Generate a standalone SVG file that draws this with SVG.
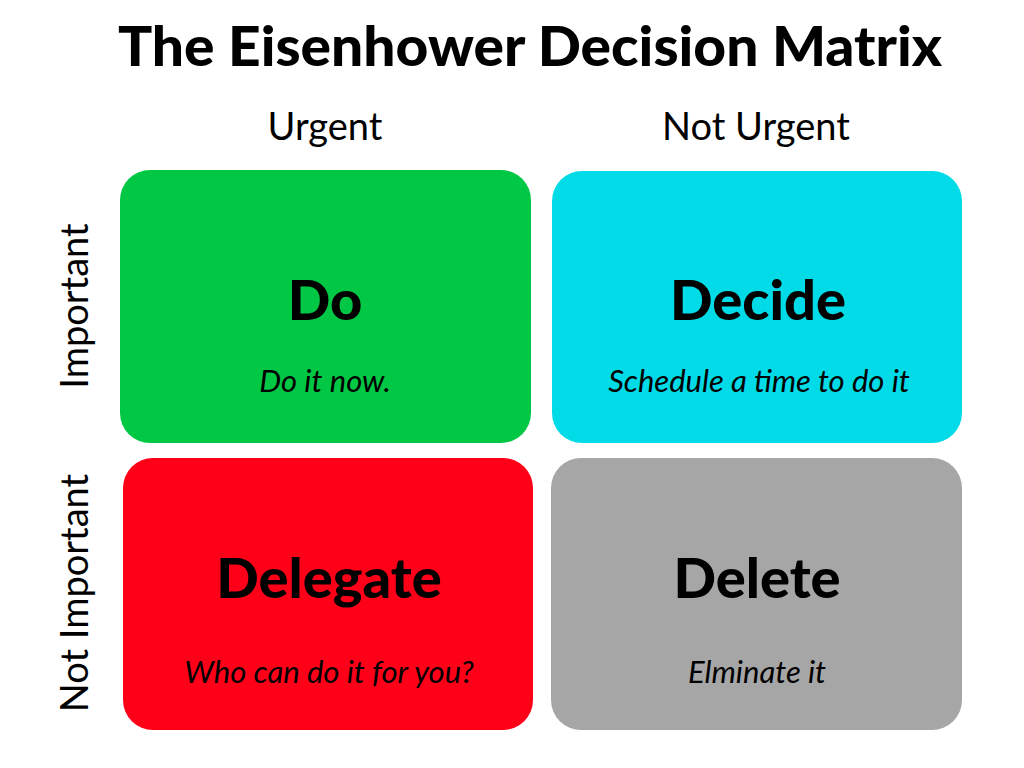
<svg xmlns="http://www.w3.org/2000/svg" width="1024" height="768" viewBox="0 0 1024 768">
<style>
.title{font-family:Lato,"Liberation Sans",sans-serif;font-weight:900;font-size:56px;fill:#000;text-anchor:middle}
.axis{font-family:Lato,"Liberation Sans",sans-serif;font-size:38px;fill:#000;text-anchor:middle}
.head{font-family:Lato,"Liberation Sans",sans-serif;font-weight:900;font-size:56px;fill:#000;text-anchor:middle}
.sub{font-family:Lato,"Liberation Sans",sans-serif;font-style:italic;font-size:31px;fill:#000;text-anchor:middle}
</style>
<rect width="1024" height="768" fill="#fff"/>
<text class="title" x="530" y="66" textLength="824" lengthAdjust="spacingAndGlyphs">The Eisenhower Decision Matrix</text>
<text class="axis" x="325" y="140">Urgent</text>
<text class="axis" x="756" y="140">Not Urgent</text>
<text class="axis" transform="translate(88,306) rotate(-90)">Important</text>
<text class="axis" transform="translate(88,593) rotate(-90)">Not Important</text>
<g id="do">
<rect x="120" y="170" width="411" height="273" rx="30" fill="#00C844"/>
<text class="head" x="325" y="320">Do</text>
<text class="sub" x="325" y="392">Do it now.</text>
</g>
<g id="decide">
<rect x="552" y="171" width="410" height="272" rx="30" fill="#00DBE7"/>
<text class="head" x="758" y="320">Decide</text>
<text class="sub" x="759" y="392">Schedule a time to do it</text>
</g>
<g id="delegate">
<rect x="123" y="458" width="410" height="272" rx="30" fill="#FF0019"/>
<text class="head" x="329" y="598">Delegate</text>
<text class="sub" x="329" y="683">Who can do it for you?</text>
</g>
<g id="delete">
<rect x="551" y="458" width="411" height="272" rx="30" fill="#A6A6A6"/>
<text class="head" x="757" y="598">Delete</text>
<text class="sub" x="757" y="683">Elminate it</text>
</g>
<g id="connectors"/>
</svg>
